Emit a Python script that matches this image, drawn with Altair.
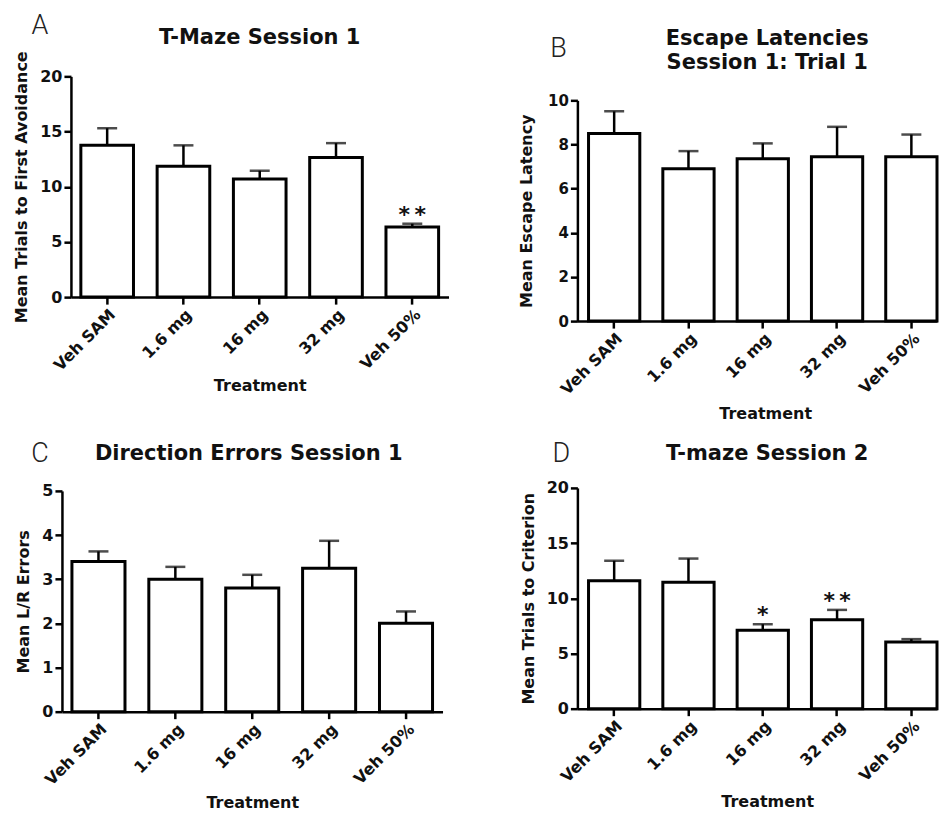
import altair as alt
import pandas as pd

categories = ["Veh SAM", "1.6 mg", "16 mg", "32 mg", "Veh 50%"]

a_means = [13.75, 11.85, 10.7, 12.65, 6.35]
a_err_tops = [15.3, 13.75, 11.45, 13.95, 6.65]
a_stars = ["", "", "", "", "*\u2009*"]

b_means = [8.5, 6.9, 7.35, 7.45, 7.45]
b_err_tops = [9.5, 7.7, 8.05, 8.8, 8.45]
b_stars = ["", "", "", "", ""]

c_means = [3.4, 3.0, 2.8, 3.25, 2.0]
c_err_tops = [3.63, 3.28, 3.1, 3.87, 2.27]
c_stars = ["", "", "", "", ""]

d_means = [11.6, 11.45, 7.1, 8.05, 6.05]
d_err_tops = [13.4, 13.6, 7.65, 8.95, 6.3]
d_stars = ["", "", "*", "*\u2009*", ""]

FONT = "DejaVu Sans"


def panel(means, tops, stars, y_max, y_values, y_title, width, height,
          x_range, y_range, y_offset,
          title_text, title_xy, letter_text, letter_xy,
          label_size, y_title_pad, x_title_pad, band_align, band_outer,
          x_title_x=None):
    df = pd.DataFrame({"treatment": categories, "mean": means,
                       "top": tops, "star": stars})
    x_axis_kwargs = dict(title="Treatment", labelAngle=-45,
                         titlePadding=x_title_pad)
    if x_title_x is not None:
        x_axis_kwargs["titleX"] = x_title_x
    x_scale = alt.Scale(paddingInner=0.31, paddingOuter=band_outer,
                        align=band_align, range=x_range)
    x_enc = alt.X("treatment:N", sort=categories, scale=x_scale,
                  axis=alt.Axis(**x_axis_kwargs))
    y_scale = alt.Scale(domain=[0, y_max], nice=False, range=y_range)
    y_axis_kwargs = dict(title=y_title, values=y_values,
                         labelFontSize=label_size, titlePadding=y_title_pad)
    if y_offset:
        y_axis_kwargs["offset"] = y_offset
    y_enc = alt.Y("mean:Q", scale=y_scale, axis=alt.Axis(**y_axis_kwargs))
    x_plain = alt.X("treatment:N", sort=categories, title="Treatment")
    base = alt.Chart(df)
    bars = base.mark_bar(fill="white", stroke="black", strokeWidth=3).encode(
        x=x_enc, y=y_enc)
    err = base.mark_rule(color="black", strokeWidth=2.5).encode(
        x=x_plain, y=alt.Y("mean:Q", title=y_title), y2="top:Q")
    caps = base.mark_tick(color="black", size=20, thickness=2.5).encode(
        x=x_plain, y=alt.Y("top:Q", title=y_title))
    star_marks = base.mark_text(font=FONT, fontWeight="bold", fontSize=22,
                                baseline="alphabetic", dy=-2,
                                color="#111").encode(
        x=x_plain, y=alt.Y("top:Q", title=y_title), text="star:N")
    title_mark = alt.Chart(pd.DataFrame({"k": [0]})).mark_text(
        text=title_text, font=FONT, fontWeight="bold", fontSize=21,
        lineHeight=24, align="center", baseline="middle", color="#111"
    ).encode(x=alt.value(title_xy[0]), y=alt.value(title_xy[1]))
    letter_mark = alt.Chart(pd.DataFrame({"k": [0]})).mark_text(
        text=letter_text, font="Roboto", fontWeight=300, fontSize=27,
        align="center", baseline="middle", color="#222"
    ).encode(x=alt.value(letter_xy[0]), y=alt.value(letter_xy[1]))
    return alt.layer(bars, err, caps, star_marks, title_mark,
                     letter_mark).properties(width=width, height=height)


panel_a = panel(a_means, a_err_tops, a_stars, 20, [0, 5, 10, 15, 20],
                "Mean Trials to First Avoidance", 387, 221,
                [9, 387], [221, 0], -9,
                "T-Maze Session 1", (198, -38), "A", (-22, -50),
                16, 10, 4, 0.5, 0.13)
panel_b = panel(b_means, b_err_tops, b_stars, 10, [0, 2, 4, 6, 8, 10],
                "Mean  Escape Latency", 360, 245,
                [0, 360], [245, 24], 0,
                ["Escape Latencies", "Session 1: Trial 1"], (190, -37),
                "B", (-19, -27),
                15, 13, 8, 1, 0.075, x_title_x=188)
panel_c = panel(c_means, c_err_tops, c_stars, 5, [0, 1, 2, 3, 4, 5],
                "Mean L/R Errors", 381, 224,
                [0, 381], [224, 3], 0,
                "Direction Errors Session 1", (187, -34), "C", (-22, -34),
                16, 10, 7, 0.5, 0.13)
panel_d = panel(d_means, d_err_tops, d_stars, 20, [0, 5, 10, 15, 20],
                "Mean Trials to Criterion", 360, 221,
                [0, 360], [221, 0], 0,
                "T-maze Session 2", (190, -34), "D", (-16, -34),
                16, 10, 9, 1, 0.075, x_title_x=190)

chart = alt.concat(panel_a, panel_b, panel_c, panel_d, columns=2,
                   spacing={"row": 18, "column": 70}).properties(
    padding={"left": 5, "top": 4, "right": 0, "bottom": 0},
    background="white"
).configure_view(stroke=None).configure_axis(
    grid=False,
    domainColor="black", domainWidth=2.5,
    tickColor="black", tickWidth=2.5, tickSize=7,
    labelFont=FONT, labelFontWeight="bold", labelFontSize=16,
    labelColor="#111", labelPadding=2,
    titleFont=FONT, titleFontWeight="bold", titleFontSize=16,
    titleColor="#111"
)

chart.save("out.html", embed_options={"renderer": "svg", "actions": False})
